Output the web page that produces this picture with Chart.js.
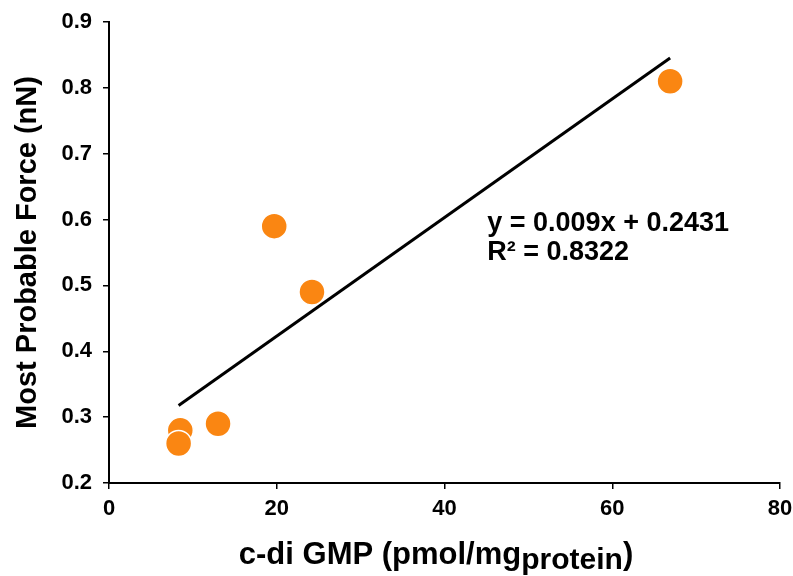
<!DOCTYPE html>
<html>
<head>
<meta charset="utf-8">
<script src="https://cdn.jsdelivr.net/npm/chart.js@4/dist/chart.umd.min.js"></script>
<style>
  html, body { margin: 0; padding: 0; background: #fff; }
  #wrap { width: 793px; height: 576px; position: relative; }
</style>
</head>
<body>
<div id="wrap"><canvas id="c" width="793" height="576"></canvas></div>
<script>
// c-di GMP level vs. most probable adhesion force
const cdiGmp = [8.5, 8.3, 13.0, 19.7, 24.2, 66.9];          // pmol/mg protein
const probableForce = [0.28, 0.26, 0.29, 0.59, 0.49, 0.81];  // nN

// Linear fit reported on the plot
const fitSlope = 0.009;
const fitIntercept = 0.2431;
const fitR2 = 0.8322;

// Axis ranges / tick steps
const xRange = [0, 80], xStep = 20;
const yRange = [0.2, 0.9], yStep = 0.1;

const FONT = "'Liberation Sans', Arial, Helvetica, sans-serif";

const points = cdiGmp.map((x, i) => ({ x, y: probableForce[i] }));
const xMin = Math.min(...cdiGmp), xMax = Math.max(...cdiGmp);
const fitLine = [xMin, xMax].map(x => ({ x, y: fitSlope * x + fitIntercept }));

// Equation text and the subscripted x-axis title
const annotations = {
  id: 'annotations',
  afterDraw(chart) {
    const ctx = chart.ctx;
    const xs = chart.scales.x, ys = chart.scales.y;
    ctx.save();
    ctx.fillStyle = '#000';
    ctx.textBaseline = 'middle';
    ctx.textAlign = 'left';
    ctx.font = `bold 27px ${FONT}`;
    const ex = xs.getPixelForValue(45.1);
    ctx.fillText(`y = ${fitSlope}x + ${fitIntercept}`, ex, ys.getPixelForValue(0.594));
    ctx.fillText(`R\u00B2 = ${fitR2}`, ex, ys.getPixelForValue(0.55));

    // x-axis title: c-di GMP (pmol/mg_protein)
    const main = 'c-di GMP (pmol/mg', sub = 'protein', tail = ')';
    const mainFont = `bold 31px ${FONT}`, subFont = `bold 30px ${FONT}`;
    ctx.font = mainFont; const w1 = ctx.measureText(main).width, w3 = ctx.measureText(tail).width;
    ctx.font = subFont; const w2 = ctx.measureText(sub).width;
    const total = w1 + w2 + w3;
    let tx = 436 - total / 2;
    const ty = 555;
    ctx.font = mainFont; ctx.fillText(main, tx, ty); tx += w1;
    ctx.font = subFont; ctx.fillText(sub, tx, ty + 6); tx += w2;
    ctx.font = mainFont; ctx.fillText(tail, tx, ty);
    ctx.restore();
  }
};

new Chart(document.getElementById('c'), {
  type: 'scatter',
  data: {
    datasets: [
      {
        label: 'Measured',
        data: points,
        backgroundColor: '#FA8612',
        borderColor: '#ffffff',
        borderWidth: 1.5,
        pointRadius: 13,
        pointHoverRadius: 13,
        order: 2
      },
      {
        type: 'line',
        label: 'Linear fit',
        data: fitLine,
        borderColor: '#000',
        borderWidth: 3,
        pointRadius: 0,
        fill: false,
        order: 1
      }
    ]
  },
  options: {
    responsive: false,
    animation: false,
    devicePixelRatio: 1,
    layout: { autoPadding: false, padding: { left: 0, top: 22, right: 13, bottom: 0 } },
    plugins: { legend: { display: false }, tooltip: { enabled: false } },
    scales: {
      x: {
        type: 'linear',
        min: xRange[0], max: xRange[1],
        ticks: {
          stepSize: xStep,
          color: '#000',
          font: { family: FONT, size: 22, weight: 'bold' },
          padding: 7,
          maxRotation: 0
        },
        grid: { drawOnChartArea: false, drawTicks: true, tickLength: 6, color: '#000', lineWidth: 1.5 },
        border: { display: true, color: '#000', width: 2 },
        afterFit(scale) {
          scale.height = 93;
          scale.paddingLeft = 0;
          scale.paddingRight = 0;
        }
      },
      y: {
        type: 'linear',
        min: yRange[0], max: yRange[1],
        ticks: {
          stepSize: yStep,
          color: '#000',
          font: { family: FONT, size: 22, weight: 'bold' },
          padding: 11,
          callback: v => v.toFixed(1)
        },
        grid: { drawOnChartArea: false, drawTicks: true, tickLength: 6, color: '#000', lineWidth: 1.5 },
        border: { display: true, color: '#000', width: 2 },
        title: {
          display: true,
          text: 'Most Probable Force (nN)',
          color: '#000',
          font: { family: FONT, size: 29, weight: 'bold' },
          padding: { top: 11, bottom: 0 }
        },
        afterFit(scale) {
          scale.width = 109;
          scale.paddingTop = 0;
          scale.paddingBottom = 0;
        }
      }
    }
  },
  plugins: [annotations]
});
</script>
</body>
</html>
